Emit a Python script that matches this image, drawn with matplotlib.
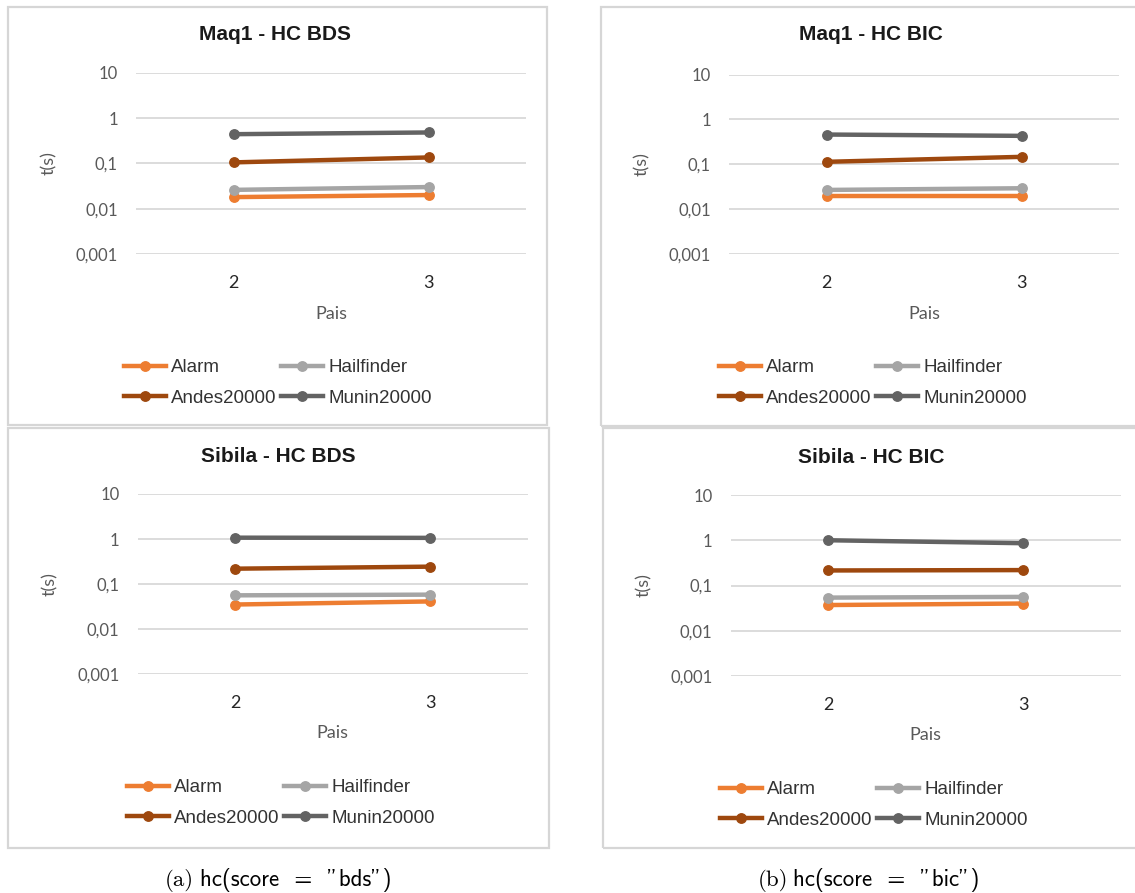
import matplotlib
matplotlib.use("Agg")
import matplotlib.pyplot as plt
from matplotlib.patches import Rectangle
from matplotlib.lines import Line2D

# ---- data -------------------------------------------------------------
categories = ["2", "3"]
series_names = ["Alarm", "Hailfinder", "Andes20000", "Munin20000"]

maq1_bds_alarm = [0.018, 0.020]
maq1_bds_hailfinder = [0.026, 0.030]
maq1_bds_andes = [0.105, 0.135]
maq1_bds_munin = [0.44, 0.48]

maq1_bic_alarm = [0.019, 0.019]
maq1_bic_hailfinder = [0.0266, 0.029]
maq1_bic_andes = [0.113, 0.146]
maq1_bic_munin = [0.46, 0.43]

sibila_bds_alarm = [0.035, 0.041]
sibila_bds_hailfinder = [0.056, 0.058]
sibila_bds_andes = [0.219, 0.243]
sibila_bds_munin = [1.07, 1.06]

sibila_bic_alarm = [0.037, 0.040]
sibila_bic_hailfinder = [0.054, 0.056]
sibila_bic_andes = [0.215, 0.219]
sibila_bic_munin = [1.0, 0.86]

y_ticks = [0.001, 0.01, 0.1, 1, 10]
y_tick_labels = ["0,001", "0,01", "0,1", "1", "10"]

titles = ["Maq1 - HC BDS", "Maq1 - HC BIC", "Sibila - HC BDS", "Sibila - HC BIC"]
captions = ["(a)", "(b)"]
caption_calls = ['hc(score  =  "bds")', 'hc(score  =  "bic")']

# ---- styling ------------------------------------------------------------
W, H = 1135, 893
colors = ["#ED7D31", "#A5A5A5", "#9E480E", "#636363"]
grid_color = "#D9D9D9"
label_color = "#595959"

fig = plt.figure(figsize=(W / 100, H / 100), dpi=100)
fig.patch.set_facecolor("white")


def fx(x):
    return x / W


def fy(y):
    return 1 - y / H


# pixel layout of each panel: frame box, plot box, title, legend centre,
# x-label height and y-label column
panels = [
    dict(frame=(8, 7, 547, 425), plot=(136, 72.7, 526, 254), title=(275, 35), legend=(278, 383),
         xlab=314, ylab=49,
         series=[maq1_bds_alarm, maq1_bds_hailfinder, maq1_bds_andes, maq1_bds_munin]),
    dict(frame=(601, 7, 1142, 426), plot=(729, 74.7, 1119, 253.7), title=(871, 35), legend=(873, 383),
         xlab=314, ylab=642,
         series=[maq1_bic_alarm, maq1_bic_hailfinder, maq1_bic_andes, maq1_bic_munin]),
    dict(frame=(8, 428, 549, 848), plot=(137.5, 494, 527.6, 674), title=(278, 457), legend=(281, 803),
         xlab=733, ylab=50,
         series=[sibila_bds_alarm, sibila_bds_hailfinder, sibila_bds_andes, sibila_bds_munin]),
    dict(frame=(603, 428, 1142, 848), plot=(730.5, 495, 1121, 676), title=(871, 458), legend=(874, 805),
         xlab=735, ylab=644,
         series=[sibila_bic_alarm, sibila_bic_hailfinder, sibila_bic_andes, sibila_bic_munin]),
]

for i, p in enumerate(panels):
    x0, y0, x1, y1 = p["frame"]
    fig.add_artist(Rectangle((fx(x0), fy(y1)), (x1 - x0) / W, (y1 - y0) / H,
                             transform=fig.transFigure, fill=False,
                             edgecolor="#D6D6D6", linewidth=1.6, zorder=0))

    px0, py0, px1, py1 = p["plot"]
    ax = fig.add_axes([fx(px0), fy(py1), (px1 - px0) / W, (py1 - py0) / H])
    ax.set_facecolor("none")

    xs = list(range(len(categories)))
    for name, vals, c in zip(series_names, p["series"], colors):
        ax.plot(xs, vals, color=c, linewidth=3.2, marker="o", markersize=6.8,
                markeredgecolor=c, markerfacecolor=c, label=name, zorder=3,
                solid_capstyle="round")

    ax.set_yscale("log")
    ax.set_ylim(0.001, 10)
    ax.set_xlim(-0.5, len(categories) - 0.5)
    ax.set_yticks(y_ticks)
    ax.set_yticklabels(y_tick_labels)
    ax.minorticks_off()
    ax.set_xticks(xs)
    ax.set_xticklabels(categories)
    ax.yaxis.grid(True, color=grid_color, linewidth=1.3)
    ax.set_axisbelow(True)
    for s in ax.spines.values():
        s.set_visible(False)
    ax.tick_params(axis="y", length=0, pad=13, labelsize=12, labelcolor=label_color)
    ax.tick_params(axis="x", length=0, pad=15, labelsize=13, labelcolor="#262626")
    for t in ax.get_yticklabels() + ax.get_xticklabels():
        t.set_family("Lato")

    ax.set_xlabel("Pais", fontsize=13, color=label_color, family="Lato",
                  verticalalignment="center")
    ax.xaxis.set_label_coords(0.5, -(p["xlab"] - py1) / (py1 - py0))
    ax.set_ylabel("t(s)", fontsize=13, color=label_color, family="Lato",
                  verticalalignment="center")
    ax.yaxis.set_label_coords((p["ylab"] - px0) / (px1 - px0), 0.5)

    # title
    tx, ty = p["title"]
    fig.text(fx(tx), fy(ty), titles[i], ha="center", va="center", fontsize=15,
             fontweight="bold", family="Liberation Sans", color="#1A1A1A")

    # legend, filled row by row
    handles = [Line2D([], [], color=c, linewidth=3.2, marker="o", markersize=6.8)
               for c in colors]
    order = [0, 2, 1, 3]
    lx, ly = p["legend"]
    ax.legend([handles[k] for k in order], [series_names[k] for k in order],
              ncol=2, loc="center", bbox_to_anchor=(fx(lx), fy(ly)),
              bbox_transform=fig.transFigure, frameon=False,
              handlelength=2.2, handletextpad=0.3, columnspacing=0.25,
              labelspacing=0.7, borderpad=0,
              prop=dict(family="Liberation Sans", size=13.5), labelcolor="#333333")

# sub-figure captions: roman tag followed by the sans-serif call
for (tag_x, call_x), tag, call in zip([(165, 200), (758, 793)], captions, caption_calls):
    fig.text(fx(tag_x), fy(880), tag, ha="left", va="center", fontsize=16.5,
             family=["cmr10", "DejaVu Serif"], color="black")
    fig.text(fx(call_x), fy(880), call, ha="left", va="center", fontsize=16.5,
             family=["cmss10", "DejaVu Sans"], color="black")

fig.savefig("out.png", dpi=100)
